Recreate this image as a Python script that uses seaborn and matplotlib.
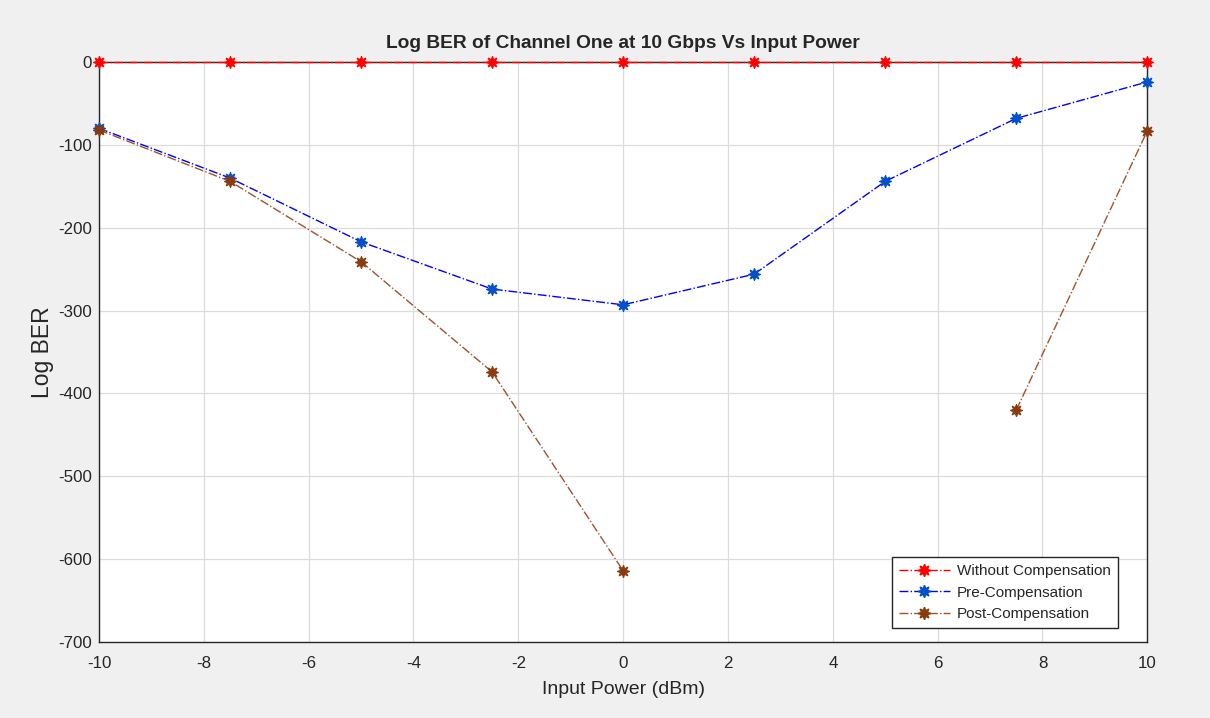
import numpy as np
import pandas as pd
import matplotlib
matplotlib.use("Agg")
import matplotlib.pyplot as plt
from matplotlib.lines import Line2D
import seaborn as sns

# input power (dBm)
power = [-10, -7.5, -5, -2.5, 0, 2.5, 5, 7.5, 10]

# log BER values (NaN = no point drawn)
without_comp = [0, 0, 0, 0, 0, 0, 0, 0, 0]
pre_comp = [-80, -140, -217, -274, -293, -256, -144, -68, -24]
post_comp = [-82, -144, -241, -374, -614, np.nan, np.nan, -420, -83]

series_names = ["Without Compensation", "Pre-Compensation", "Post-Compensation"]
line_colors = ["#ff0000", "#0000ff", "#a0522d"]
marker_colors = ["#ff0000", "#0050c8", "#8b3a0f"]

x_ticks = [-10, -8, -6, -4, -2, 0, 2, 4, 6, 8, 10]
y_ticks = [0, -100, -200, -300, -400, -500, -600, -700]

sns.set_style("white")
plt.rcParams["font.family"] = ["Liberation Sans", "DejaVu Sans"]
plt.rcParams["axes.unicode_minus"] = False

# long table, contiguous runs get their own unit so NaN gaps stay open
rows = []
for name, vals in zip(series_names, [without_comp, pre_comp, post_comp]):
    seg = 0
    for p, v in zip(power, vals):
        if np.isnan(v):
            seg += 1
            continue
        rows.append({"power": p, "ber": v, "series": name, "seg": seg})
df = pd.DataFrame(rows)

mk = (8, 1, 0)  # 8-point star, close to the matlab marker look

fig = plt.figure(figsize=(12.1, 7.18), dpi=100, facecolor="#f0f0f0")
ax = fig.add_axes([0.0818, 0.1058, 0.8664, 0.8078])
ax.set_facecolor("white")

for name, lc, mc in zip(series_names, line_colors, marker_colors):
    sub = df[df["series"] == name]
    sns.lineplot(data=sub, x="power", y="ber", units="seg", estimator=None,
                 color=lc, linestyle="-.", linewidth=1.0, marker=mk,
                 markersize=9, markerfacecolor=mc, markeredgecolor=mc,
                 sort=False, ax=ax, legend=False, clip_on=False, zorder=3)

ax.set_xlim(-10, 10)
ax.set_ylim(-700, 0)
ax.set_xticks(x_ticks)
ax.set_yticks(y_ticks)
ax.grid(True, color="#dcdcdc", linewidth=0.9)
ax.tick_params(direction="in", length=5, width=1, colors="#262626",
               labelsize=12.2, labelcolor="#262626", top=False, right=False)
ax.tick_params(axis="x", pad=10)
ax.tick_params(axis="y", pad=5)
for sp in ax.spines.values():
    sp.set_color("#262626")
    sp.set_linewidth(1.0)

ax.set_title("Log BER of Channel One at 10 Gbps Vs Input Power",
             fontsize=13.8, fontweight="bold", pad=10)
ax.set_xlabel("Input Power (dBm)", fontsize=14, color="#262626", labelpad=7)
ax.set_ylabel("Log BER", fontsize=16.5, color="#262626", labelpad=3)

handles = [Line2D([0], [0], color=lc, linestyle="-.", linewidth=1.0, marker=mk,
                  markersize=9, markerfacecolor=mc, markeredgecolor=mc)
           for lc, mc in zip(line_colors, marker_colors)]
leg = ax.legend(handles, series_names, loc="lower right",
                bbox_to_anchor=(0.972, 0.024), borderaxespad=0, fontsize=11,
                frameon=True, fancybox=False, framealpha=1, edgecolor="#262626",
                handlelength=3.3, handletextpad=0.5, labelspacing=0.5,
                borderpad=0.45)
leg.get_frame().set_linewidth(1.0)

fig.savefig("out.png", dpi=100, facecolor=fig.get_facecolor())
